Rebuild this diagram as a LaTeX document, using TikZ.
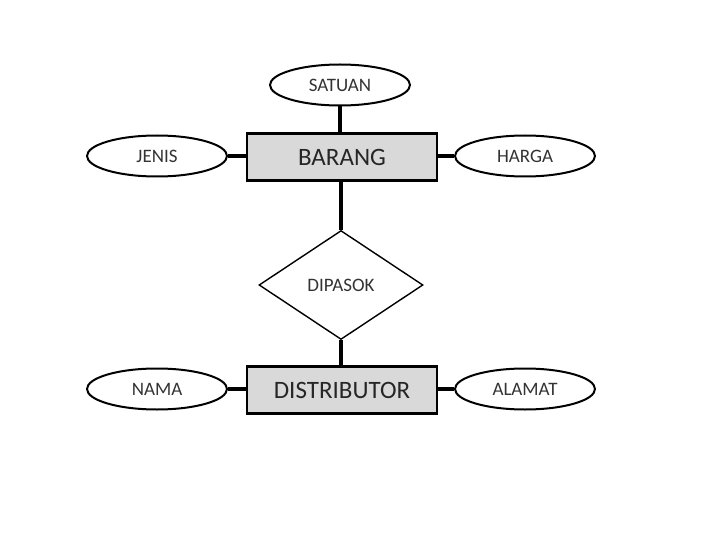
\documentclass[tikz,border=0pt]{standalone}
\usepackage{fontspec}
\setmainfont{Carlito}
\usetikzlibrary{shapes.geometric}
\begin{document}
\begin{tikzpicture}[x=1pt,y=-1pt,
  attr/.style={draw=black,line width=2pt,ellipse,minimum width=140pt,minimum height=41pt,inner sep=0pt,font=\fontsize{19}{21}\selectfont,text=black!80},
  entity/.style={draw=black,line width=2.6pt,fill=black!15,minimum width=190pt,minimum height=47pt,inner sep=0pt,font=\fontsize{25}{27}\selectfont,text=black!85},
  rel/.style={draw=black,line width=1.4pt,diamond,minimum width=164pt,minimum height=109pt,inner sep=0pt,font=\fontsize{19}{21}\selectfont,text=black!80},
  link/.style={line width=4pt,black}]
\useasboundingbox (0,0) rectangle (720,540);
\node[entity] (barang) at (342,157) {BARANG};
\node[entity] (dist) at (342,390) {DISTRIBUTOR};
\node[attr] (satuan) at (340,85) {SATUAN};
\node[attr] (jenis) at (157,156) {JENIS};
\node[attr] (harga) at (525,156) {HARGA};
\node[attr] (nama) at (157,389) {NAMA};
\node[attr] (alamat) at (525,389) {ALAMAT};
\node[rel,aspect=1.5] (dipasok) at (341,285) {DIPASOK};
\draw[link] (satuan.south) -- (satuan.south |- barang.north);
\draw[link] (jenis.east) -- (jenis.east -| barang.west);
\draw[link] (harga.west) -- (harga.west -| barang.east);
\draw[link] (barang.south -| dipasok.north) -- (dipasok.north);
\draw[link] (dipasok.south) -- (dipasok.south |- dist.north);
\draw[link] (nama.east) -- (nama.east -| dist.west);
\draw[link] (alamat.west) -- (alamat.west -| dist.east);
\end{tikzpicture}
\end{document}
